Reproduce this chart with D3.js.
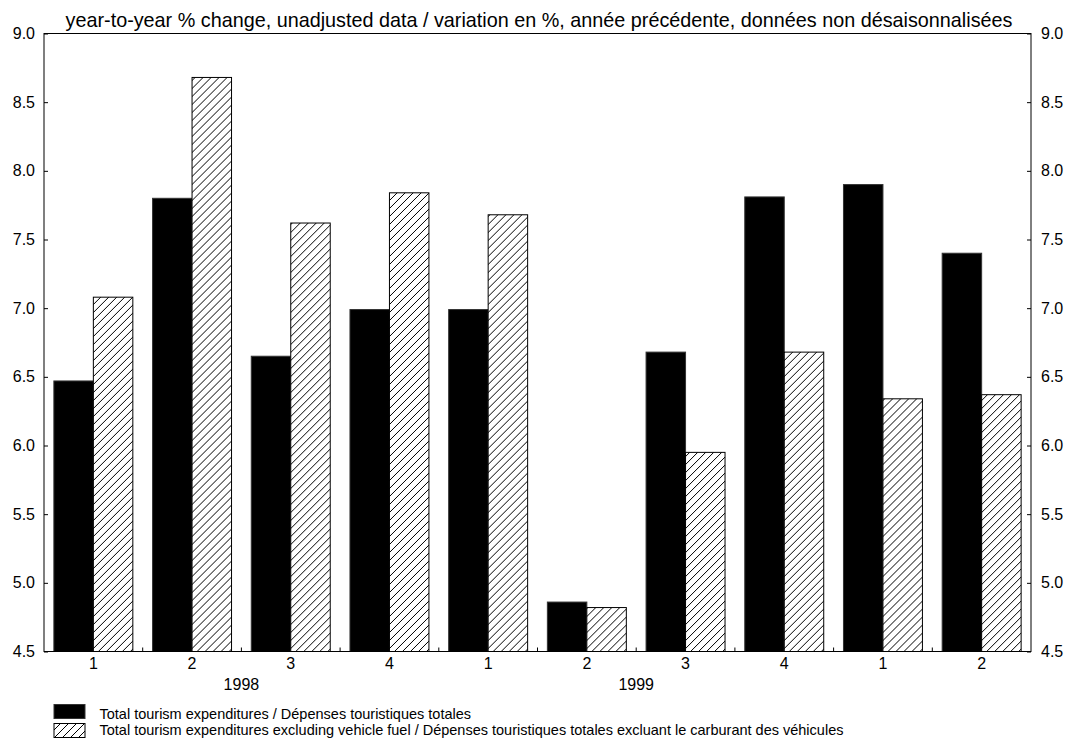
<!DOCTYPE html>
<html>
<head>
<meta charset="utf-8">
<script src="https://cdn.jsdelivr.net/npm/d3@7"></script>
<style>
  body { margin: 0; background: #fff; }
  text { font-family: "Liberation Sans", Arial, sans-serif; fill: #000; }
</style>
</head>
<body>
<div id="holder"></div>
<script>
const quarters = ["1", "2", "3", "4", "1", "2", "3", "4", "1", "2"];
const years = ["1998", "1999"];
const yearStart = [0, 4];
const totalSeries = [6.47, 7.80, 6.65, 6.99, 6.99, 4.86, 6.68, 7.81, 7.90, 7.40];
const exFuelSeries = [7.08, 8.68, 7.62, 7.84, 7.68, 4.82, 5.95, 6.68, 6.34, 6.37];
const seriesNames = [
  "Total tourism expenditures / Dépenses touristiques totales",
  "Total tourism expenditures excluding vehicle fuel / Dépenses touristiques totales excluant le carburant des véhicules"
];
const yTicks = [4.5, 5.0, 5.5, 6.0, 6.5, 7.0, 7.5, 8.0, 8.5, 9.0];
const title = "year-to-year % change, unadjusted data / variation en %, année précédente, données non désaisonnalisées";

const width = 1065;
const height = 739;
const plotLeft = 44, plotRight = 1031, plotTop = 33.5, plotBottom = 651.5;

const svg = d3.select("#holder")
  .append("svg")
  .attr("width", width)
  .attr("height", height);

// hatch pattern
svg.append("defs")
  .append("pattern")
  .attr("id", "hatch")
  .attr("patternUnits", "userSpaceOnUse")
  .attr("width", 8)
  .attr("height", 8)
  .call(p => {
    p.append("rect").attr("width", 8).attr("height", 8).attr("fill", "#fff");
    p.append("path")
      .attr("d", "M-2,2 l4,-4 M0,8 l8,-8 M6,10 l4,-4")
      .attr("stroke", "#000")
      .attr("stroke-width", 1);
  });

const x0 = d3.scaleBand()
  .domain(d3.range(quarters.length))
  .range([plotLeft, plotRight])
  .paddingInner(0.2)
  .paddingOuter(0.1);

const x1 = d3.scaleBand()
  .domain([0, 1])
  .range([0, x0.bandwidth()]);

const y = d3.scaleLinear()
  .domain([4.5, 9.0])
  .range([plotBottom, plotTop]);

const data = quarters.map((q, i) => [totalSeries[i], exFuelSeries[i]]);

svg.append("g")
  .selectAll("g")
  .data(data)
  .enter()
  .append("g")
  .attr("transform", (d, i) => `translate(${x0(i)},0)`)
  .selectAll("rect")
  .data(d => d)
  .enter()
  .append("rect")
  .attr("x", (d, j) => x1(j))
  .attr("y", d => y(d))
  .attr("width", x1.bandwidth())
  .attr("height", d => plotBottom - y(d))
  .attr("fill", (d, j) => j === 0 ? "#000" : "url(#hatch)")
  .attr("stroke", (d, j) => j === 0 ? "#333" : "#000")
  .attr("stroke-width", 1);

// frame
svg.append("rect")
  .attr("x", plotLeft)
  .attr("y", plotTop)
  .attr("width", plotRight - plotLeft)
  .attr("height", plotBottom - plotTop)
  .attr("fill", "none")
  .attr("stroke", "#000")
  .attr("stroke-width", 1);

// y axes
const yAxisLeft = d3.axisLeft(y).tickValues(yTicks).tickFormat(d3.format(".1f")).tickSizeInner(-4).tickSizeOuter(0).tickPadding(9);
const yAxisRight = d3.axisRight(y).tickValues(yTicks).tickFormat(d3.format(".1f")).tickSizeInner(-4).tickSizeOuter(0).tickPadding(10);

svg.append("g")
  .attr("transform", `translate(${plotLeft},0)`)
  .call(yAxisLeft)
  .call(g => g.select(".domain").remove())
  .call(g => g.selectAll("text").style("font-size", "16px").style("font-family", "Liberation Sans, Arial, sans-serif"));

svg.append("g")
  .attr("transform", `translate(${plotRight},0)`)
  .call(yAxisRight)
  .call(g => g.select(".domain").remove())
  .call(g => g.selectAll("text").style("font-size", "16px").style("font-family", "Liberation Sans, Arial, sans-serif"));

// category separators on bottom axis
const step = x0.step();
svg.append("g")
  .selectAll("line")
  .data(d3.range(1, quarters.length))
  .enter()
  .append("line")
  .attr("x1", i => x0(i) - step * 0.1)
  .attr("x2", i => x0(i) - step * 0.1)
  .attr("y1", plotBottom)
  .attr("y2", plotBottom - 4)
  .attr("stroke", "#000");

// quarter labels
svg.append("g")
  .selectAll("text")
  .data(quarters)
  .enter()
  .append("text")
  .attr("x", (d, i) => x0(i) + x0.bandwidth() / 2)
  .attr("y", 669)
  .attr("text-anchor", "middle")
  .style("font-size", "16px")
  .text(d => d);

// year labels
svg.append("g")
  .selectAll("text")
  .data(years)
  .enter()
  .append("text")
  .attr("x", (d, i) => (x0(yearStart[i]) + x0(yearStart[i] + 3) + x0.bandwidth()) / 2)
  .attr("y", 689.5)
  .attr("text-anchor", "middle")
  .style("font-size", "16px")
  .text(d => d);

// title
svg.append("text")
  .attr("x", 539)
  .attr("y", 26.5)
  .attr("text-anchor", "middle")
  .style("font-size", "19.8px")
  .text(title);

// legend
const legend = svg.append("g");
legend.selectAll("rect")
  .data(seriesNames)
  .enter()
  .append("rect")
  .attr("x", 54)
  .attr("y", (d, i) => 704.5 + i * 19)
  .attr("width", 31)
  .attr("height", 14)
  .attr("fill", (d, i) => i === 0 ? "#000" : "url(#hatch)")
  .attr("stroke", (d, i) => i === 0 ? "#333" : "#000");

legend.selectAll("text")
  .data(seriesNames)
  .enter()
  .append("text")
  .attr("x", 99.5)
  .attr("y", (d, i) => 718.5 + i * 16)
  .style("font-size", "14.5px")
  .text(d => d);
</script>
</body>
</html>
